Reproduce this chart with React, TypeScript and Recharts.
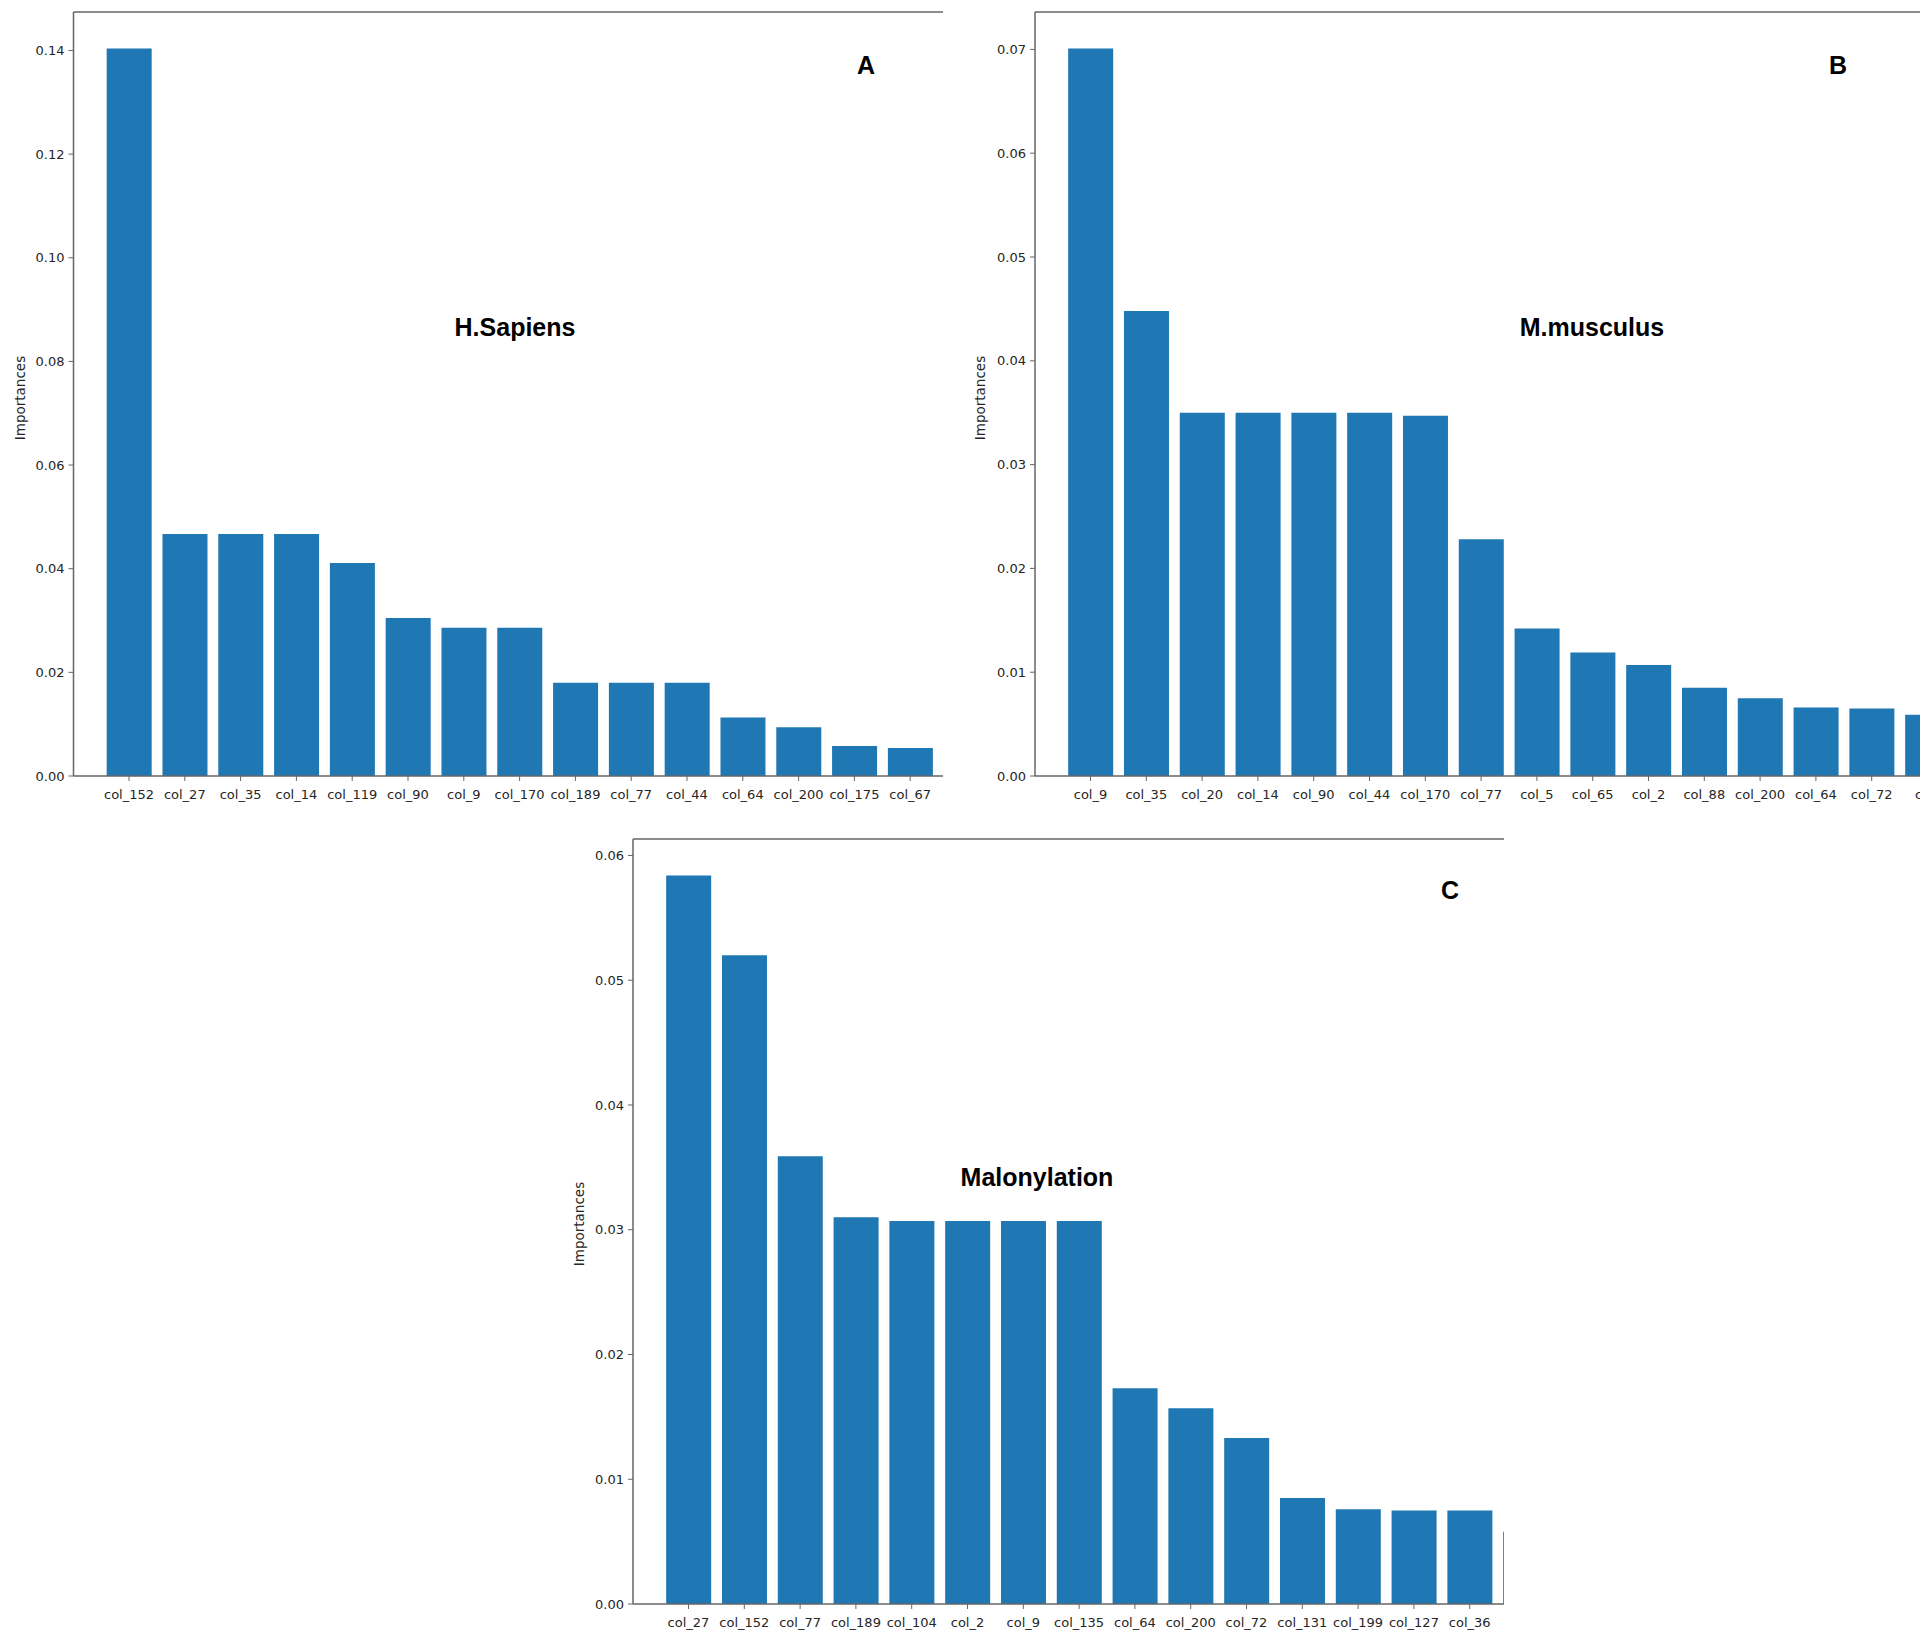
import { Bar, BarChart, ReferenceLine, XAxis, YAxis } from 'recharts';

const BLUE = '#1f77b4';
const INK = '#262626';
const SPINE = '#666';
const TICK_FONT = '"DejaVu Sans", sans-serif';
const TITLE_FONT = '"Liberation Sans", Arial, sans-serif';

// A: H.Sapiens
const sapiensCols = ['col_152', 'col_27', 'col_35', 'col_14', 'col_119', 'col_90', 'col_9', 'col_170', 'col_189', 'col_77', 'col_44', 'col_64', 'col_200', 'col_175', 'col_67'];
const sapiensVals = [0.1404, 0.0467, 0.0467, 0.0467, 0.0411, 0.0305, 0.0286, 0.0286, 0.018, 0.018, 0.018, 0.0113, 0.0094, 0.0058, 0.0054];
const sapiensTicks = [0, 0.02, 0.04, 0.06, 0.08, 0.1, 0.12, 0.14];

// B: M.musculus (last bar is cut off at the picture edge)
const musculusCols = ['col_9', 'col_35', 'col_20', 'col_14', 'col_90', 'col_44', 'col_170', 'col_77', 'col_5', 'col_65', 'col_2', 'col_88', 'col_200', 'col_64', 'col_72', 'col_'];
const musculusVals = [0.0701, 0.0448, 0.035, 0.035, 0.035, 0.035, 0.0347, 0.0228, 0.0142, 0.0119, 0.0107, 0.0085, 0.0075, 0.0066, 0.0065, 0.0059];
const musculusTicks = [0, 0.01, 0.02, 0.03, 0.04, 0.05, 0.06, 0.07];

// C: Malonylation (last bar is cut off too, its label is not visible)
const malonylCols = ['col_27', 'col_152', 'col_77', 'col_189', 'col_104', 'col_2', 'col_9', 'col_135', 'col_64', 'col_200', 'col_72', 'col_131', 'col_199', 'col_127', 'col_36', ''];
const malonylVals = [0.0584, 0.052, 0.0359, 0.031, 0.0307, 0.0307, 0.0307, 0.0307, 0.0173, 0.0157, 0.0133, 0.0085, 0.0076, 0.0075, 0.0075, 0.0058];
const malonylTicks = [0, 0.01, 0.02, 0.03, 0.04, 0.05, 0.06];

const BAND = 55.8;
const PAD_LEFT = 27.6;

type PanelProps = {
  cols: string[];
  vals: number[];
  ticks: number[];
  left: number;
  top: number;
  clipW: number;
  clipH: number;
  plotLeft: number;
  plotTop: number;
  plotBottom: number;
  chartW: number;
};

function Panel({ cols, vals, ticks, left, top, clipW, clipH, plotLeft, plotTop, plotBottom, chartW }: PanelProps) {
  const data = cols.map((name, i) => ({ name, value: vals[i] }));
  // matplotlib style headroom above the tallest bar
  const yMax = Math.max(...vals) * 1.05;
  const plotW = chartW - plotLeft;
  const padRight = plotW - PAD_LEFT - cols.length * BAND;
  const xAxisH = 30;

  return (
    <div style={{ position: 'absolute', left, top, width: clipW, height: clipH, overflow: 'hidden' }}>
      <BarChart
        width={chartW}
        height={clipH}
        data={data}
        margin={{ top: plotTop, right: 0, bottom: clipH - plotBottom - xAxisH, left: 0 }}
      >
        <XAxis
          dataKey="name"
          interval={0}
          height={xAxisH}
          padding={{ left: PAD_LEFT, right: padRight }}
          axisLine={{ stroke: SPINE, strokeWidth: 1.5 }}
          tickLine={{ stroke: SPINE }}
          tickSize={5}
          tickMargin={9}
          tick={{ fill: INK, fontSize: 13, fontFamily: TICK_FONT }}
        />
        <YAxis
          type="number"
          domain={[0, yMax]}
          ticks={ticks}
          width={plotLeft}
          axisLine={{ stroke: SPINE, strokeWidth: 1.5 }}
          tickLine={{ stroke: SPINE }}
          tickSize={5}
          tickMargin={4}
          tickFormatter={(v: number) => v.toFixed(2)}
          tick={{ fill: INK, fontSize: 13, fontFamily: TICK_FONT }}
        />
        {/* top spine of the frame */}
        <ReferenceLine y={yMax} stroke={SPINE} strokeWidth={1.5} ifOverflow="visible" />
        <Bar dataKey="value" fill={BLUE} isAnimationActive={false} />
      </BarChart>
    </div>
  );
}

function Title({ text, x, y }: { text: string; x: number; y: number }) {
  return (
    <div
      style={{
        position: 'absolute',
        left: x,
        top: y,
        transform: 'translate(-50%, -50%)',
        fontFamily: TITLE_FONT,
        fontWeight: 'bold',
        fontSize: 25,
        color: '#000',
        whiteSpace: 'nowrap',
      }}
    >
      {text}
    </div>
  );
}

function YLabel({ x, y }: { x: number; y: number }) {
  return (
    <div
      style={{
        position: 'absolute',
        left: x,
        top: y,
        transform: 'translate(-50%, -50%) rotate(-90deg)',
        fontFamily: TICK_FONT,
        fontSize: 13.5,
        color: INK,
        whiteSpace: 'nowrap',
      }}
    >
      Importances
    </div>
  );
}

export default function App() {
  return (
    <div style={{ position: 'absolute', left: 0, top: 0, width: 1920, height: 1643, overflow: 'hidden', background: '#fff' }}>
      <Panel
        cols={sapiensCols}
        vals={sapiensVals}
        ticks={sapiensTicks}
        left={0}
        top={0}
        clipW={943}
        clipH={815}
        plotLeft={73.5}
        plotTop={12}
        plotBottom={776}
        chartW={1010}
      />
      <Panel
        cols={musculusCols}
        vals={musculusVals}
        ticks={musculusTicks}
        left={960}
        top={0}
        clipW={960}
        clipH={815}
        plotLeft={75}
        plotTop={12}
        plotBottom={776}
        chartW={1060}
      />
      <Panel
        cols={malonylCols}
        vals={malonylVals}
        ticks={malonylTicks}
        left={560}
        top={820}
        clipW={944}
        clipH={823}
        plotLeft={73}
        plotTop={19}
        plotBottom={784}
        chartW={1060}
      />
      <Title text="H.Sapiens" x={515} y={327} />
      <Title text="A" x={866} y={65} />
      <Title text="M.musculus" x={1592} y={327} />
      <Title text="B" x={1838} y={65} />
      <Title text="Malonylation" x={1037} y={1177} />
      <Title text="C" x={1450} y={890} />
      <YLabel x={20} y={398} />
      <YLabel x={980} y={398} />
      <YLabel x={579} y={1224} />
    </div>
  );
}
